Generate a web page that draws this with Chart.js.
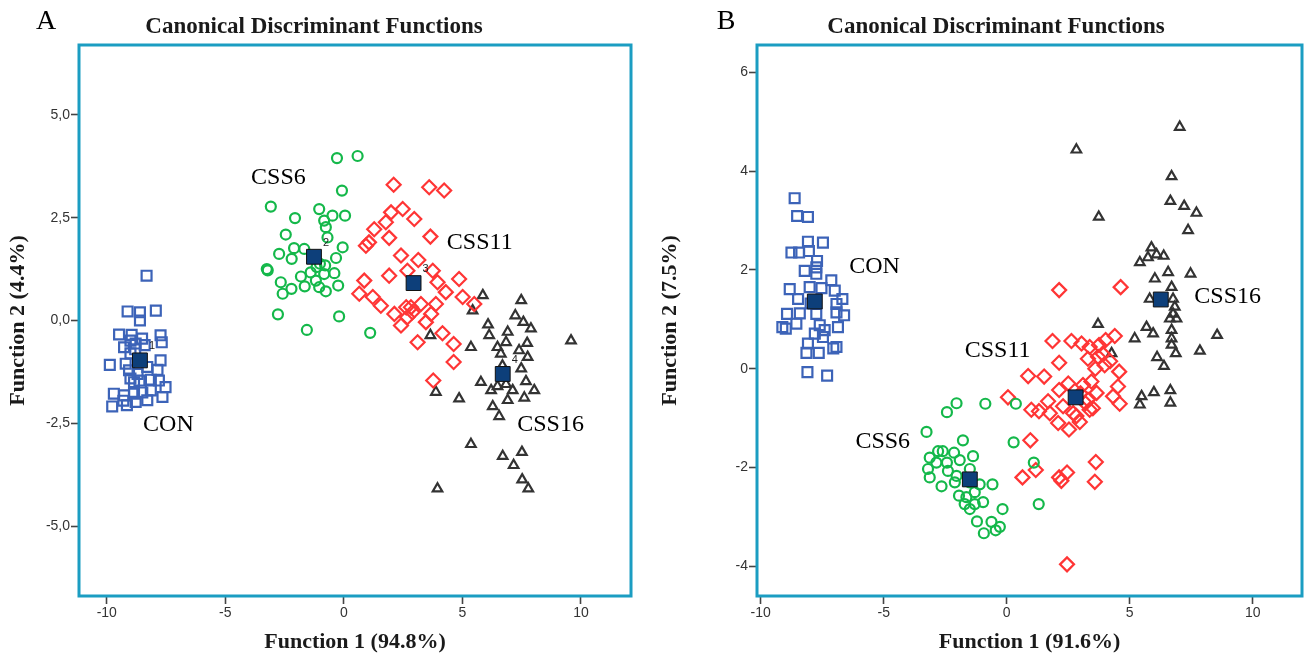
<!DOCTYPE html>
<html>
<head>
<meta charset="utf-8">
<script src="https://cdn.jsdelivr.net/npm/chart.js@4.4.1/dist/chart.umd.min.js"></script>
<style>
html, body { margin: 0; padding: 0; background: #fff; }
#wrap { position: relative; width: 1304px; height: 657px; }
.panel { position: absolute; top: 0; width: 652px; height: 657px; }
</style>
</head>
<body>
<div id="wrap">
  <div class="panel" style="left:0"><canvas id="chartA"></canvas></div>
  <div class="panel" style="left:652px"><canvas id="chartB"></canvas></div>
</div>
<script>
// ---- data ----
var groups = ['CON', 'CSS6', 'CSS11', 'CSS16'];
var xTicks = [-10, -5, 0, 5, 10];
var yTicksA = [-5, -2.5, 0, 2.5, 5];
var yTickLabelsA = ['-5,0', '-2,5', '0,0', '2,5', '5,0'];
var yTicksB = [-4, -2, 0, 2, 4, 6];

// panel A
var conA = [[-8.32,1.09],[-9.12,0.22],[-8.6,0.2],[-7.93,0.24],[-8.6,0.0],[-9.48,-0.34],[-9.0,-0.49],[-8.78,-0.56],[-8.51,-0.44],[-7.73,-0.36],[-7.68,-0.53],[-9.87,-1.08],[-9.2,-1.05],[-7.86,-1.2],[-9.0,-1.41],[-8.62,-1.46],[-8.14,-1.44],[-7.8,-1.46],[-7.52,-1.62],[-9.7,-1.78],[-9.27,-1.82],[-8.85,-1.78],[-8.14,-1.7],[-7.65,-1.86],[-9.77,-2.09],[-9.15,-2.06],[-8.78,-1.98],[-8.29,-1.94],[-8.85,-1.5],[-9.06,-1.21],[-8.29,-1.13],[-9.27,-0.65],[-7.73,-0.97],[-8.8,-0.7],[-8.4,-0.6],[-9.0,-0.8],[-8.7,-1.3],[-8.5,-1.75],[-9.3,-1.95],[-8.95,-0.35]];
var css6A = [[-0.29,3.95],[0.58,4.0],[-0.08,3.16],[-3.08,2.77],[-2.06,2.49],[-1.04,2.71],[-0.48,2.55],[0.05,2.55],[-0.83,2.43],[-0.76,2.27],[-2.45,2.09],[-0.69,2.02],[-0.05,1.78],[-2.73,1.62],[-2.1,1.76],[-1.67,1.74],[-2.2,1.5],[-0.33,1.52],[-3.25,1.25],[-3.21,1.22],[-1.81,1.07],[-1.4,1.17],[-0.83,1.13],[-0.4,1.15],[-2.66,0.93],[-2.58,0.65],[-2.21,0.77],[-1.65,0.83],[-1.04,0.81],[-0.76,0.71],[-0.24,0.85],[-1.18,0.97],[-2.78,0.15],[-1.56,-0.23],[-0.2,0.1],[1.11,-0.3],[-1.01,1.38],[-0.79,1.34],[-1.15,1.3]];
var css11A = [[2.1,3.3],[3.6,3.24],[4.23,3.16],[2.48,2.71],[1.99,2.63],[2.97,2.47],[1.77,2.39],[1.28,2.22],[3.65,2.04],[1.91,2.01],[1.06,1.9],[0.93,1.82],[2.41,1.58],[3.14,1.47],[1.91,1.09],[0.86,0.97],[2.68,1.21],[3.75,1.21],[3.95,0.93],[4.86,1.01],[4.3,0.69],[0.65,0.65],[1.22,0.57],[1.56,0.36],[2.83,0.32],[3.25,0.4],[3.88,0.4],[5.01,0.57],[5.5,0.4],[2.13,0.16],[2.68,0.08],[3.68,0.16],[2.41,-0.12],[3.46,-0.04],[4.16,-0.31],[3.11,-0.53],[4.63,-0.57],[4.63,-1.01],[3.77,-1.46],[2.89,0.2],[2.63,0.32]];
var css16A = [[5.86,0.61],[7.48,0.49],[5.43,0.24],[7.23,0.12],[7.57,-0.04],[6.08,-0.1],[7.89,-0.2],[6.13,-0.36],[6.91,-0.28],[3.65,-0.36],[6.84,-0.53],[5.36,-0.65],[6.48,-0.65],[7.73,-0.55],[7.39,-0.73],[6.62,-0.81],[7.75,-0.89],[9.58,-0.49],[7.48,-1.17],[5.78,-1.5],[7.68,-1.48],[6.21,-1.7],[7.12,-1.7],[8.03,-1.7],[3.88,-1.74],[4.86,-1.9],[7.61,-1.88],[6.91,-1.94],[6.28,-2.09],[6.55,-2.33],[5.36,-3.01],[7.51,-3.2],[6.7,-3.3],[7.16,-3.52],[7.52,-3.87],[7.78,-4.09],[3.95,-4.09],[6.69,-1.1],[6.48,-1.6],[6.84,-1.55]];
var centroidsA = [[-8.6,-0.97],[-1.26,1.55],[2.94,0.91],[6.7,-1.3]];
var centroidNumsA = ['1', '2', '3', '4'];
var labelPosA = [[-7.4,-2.53],[-2.76,3.48],[5.73,1.9],[8.72,-2.53]];

// panel B
var conB = [[-8.62,3.45],[-8.52,3.09],[-8.08,3.07],[-8.08,2.57],[-7.47,2.55],[-8.75,2.35],[-8.44,2.35],[-8.04,2.38],[-7.71,2.18],[-7.74,2.05],[-8.21,1.98],[-7.74,1.92],[-7.13,1.79],[-8.82,1.61],[-8.01,1.65],[-7.53,1.63],[-6.99,1.58],[-8.48,1.41],[-6.68,1.41],[-6.92,1.31],[-8.93,1.11],[-8.41,1.12],[-7.74,1.11],[-6.92,1.14],[-6.61,1.08],[-8.55,0.91],[-8.98,0.81],[-9.12,0.84],[-7.6,0.88],[-7.4,0.78],[-6.86,0.84],[-7.8,0.71],[-8.08,0.51],[-7.47,0.64],[-6.92,0.44],[-8.14,0.32],[-7.64,0.32],[-7.05,0.41],[-8.1,-0.07],[-7.3,-0.14],[-7.97,1.32]];
var css6B = [[-2.04,-0.7],[-2.43,-0.88],[-0.87,-0.71],[0.37,-0.71],[-3.26,-1.28],[-1.78,-1.45],[0.28,-1.49],[-2.79,-1.67],[-2.6,-1.67],[-2.14,-1.7],[-1.37,-1.77],[-3.13,-1.8],[-2.86,-1.9],[-2.43,-1.9],[-1.91,-1.85],[1.1,-1.9],[-3.2,-2.03],[-2.39,-2.07],[-2.04,-2.17],[-3.13,-2.2],[-2.65,-2.38],[-2.11,-2.3],[-0.58,-2.34],[-1.1,-2.34],[-1.94,-2.57],[-1.64,-2.6],[-1.3,-2.5],[-0.96,-2.7],[-1.71,-2.74],[-1.5,-2.84],[-1.3,-2.74],[-0.17,-2.84],[1.3,-2.74],[-1.21,-3.09],[-0.62,-3.1],[-0.28,-3.2],[-0.45,-3.27],[-0.93,-3.33],[-1.5,-2.03],[-1.5,-2.3]];
var css11B = [[2.13,1.59],[4.63,1.65],[1.86,0.56],[2.63,0.56],[3.04,0.51],[3.37,0.44],[3.75,0.48],[4.02,0.58],[4.39,0.66],[2.13,0.12],[0.87,-0.15],[1.52,-0.16],[3.71,0.24],[3.98,0.07],[4.57,-0.06],[3.44,-0.26],[3.1,-0.33],[4.52,-0.36],[2.13,-0.43],[0.05,-0.58],[4.32,-0.56],[1.68,-0.66],[2.29,-0.76],[3.3,-0.63],[3.65,-0.49],[4.59,-0.71],[1.0,-0.83],[1.31,-0.86],[1.75,-0.9],[3.37,-0.83],[2.83,-0.96],[2.09,-1.1],[2.97,-1.08],[2.53,-1.23],[0.96,-1.45],[3.62,-1.89],[0.64,-2.2],[1.18,-2.05],[2.13,-2.2],[2.45,-2.1],[2.22,-2.27],[3.58,-2.29],[2.45,-3.96],[2.5,-0.3],[3.2,-0.7],[3.5,-0.8],[2.7,-0.9],[3.0,-0.5],[3.6,0.0],[3.9,0.3],[4.2,0.15],[3.3,0.2]];
var css16B = [[7.03,4.89],[2.83,4.43],[6.7,3.89],[6.65,3.39],[7.21,3.29],[7.71,3.15],[3.74,3.07],[7.37,2.8],[5.88,2.45],[5.41,2.15],[5.74,2.25],[6.09,2.31],[6.38,2.28],[6.02,1.82],[6.56,1.95],[7.47,1.92],[6.7,1.65],[5.81,1.41],[6.76,1.41],[6.83,1.25],[6.76,1.11],[6.63,1.01],[6.9,1.01],[3.71,0.9],[5.68,0.84],[5.95,0.71],[6.7,0.78],[8.55,0.68],[5.2,0.61],[6.7,0.61],[6.7,0.48],[7.85,0.36],[4.26,0.31],[6.87,0.31],[6.11,0.23],[6.39,0.05],[5.98,-0.48],[6.65,-0.44],[5.48,-0.56],[5.41,-0.73],[6.65,-0.69]];
var centroidsB = [[-7.8,1.36],[-1.5,-2.24],[2.8,-0.58],[6.26,1.4]];
var labelPosB = [[-5.37,2.07],[-5.04,-1.47],[-0.37,0.37],[8.98,1.46]];

// ---- drawing ----
var border = '#1b9dc2';
var serif = "'Liberation Serif', 'Times New Roman', serif";
var sans = "'Liberation Sans', Arial, sans-serif";

function pts(list) {
  return list.map(function (p) { return { x: p[0], y: p[1] }; });
}

var decor = {
  id: 'decor',
  afterDatasetsDraw: function (chart, args, o) {
    var ctx = chart.ctx, a = chart.chartArea;
    var xs = chart.scales.x, ys = chart.scales.y;
    ctx.save();
    ctx.strokeStyle = border;
    ctx.lineWidth = 3;
    ctx.strokeRect(a.left, a.top, a.right - a.left, a.bottom - a.top);

    ctx.fillStyle = '#000';
    ctx.font = '24px ' + serif;
    ctx.textAlign = 'center';
    ctx.textBaseline = 'middle';
    for (var i = 0; i < groups.length; i++) {
      ctx.fillText(groups[i], xs.getPixelForValue(o.labels[i][0]), ys.getPixelForValue(o.labels[i][1]));
    }
    if (o.nums) {
      ctx.font = '11px ' + sans;
      ctx.fillStyle = '#222';
      for (var j = 0; j < o.nums.length; j++) {
        ctx.fillText(o.nums[j], xs.getPixelForValue(o.centroids[j][0]) + 12, ys.getPixelForValue(o.centroids[j][1]) - 14);
      }
    }
    ctx.restore();
  },
  afterDraw: function (chart, args, o) {
    var ctx = chart.ctx;
    ctx.save();
    ctx.fillStyle = '#000';
    ctx.textBaseline = 'middle';
    ctx.textAlign = 'center';
    ctx.font = '28px ' + serif;
    ctx.fillText(o.letter, o.letterX, 22);
    ctx.font = 'bold 23px ' + serif;
    ctx.fillStyle = '#1a1a1a';
    ctx.fillText('Canonical Discriminant Functions', o.titleX, 27);
    ctx.restore();
  }
};

function makeChart(id, p) {
  var axisTitleFont = { family: serif, size: 22, weight: 'bold' };
  var grid = { display: true, drawOnChartArea: false, drawTicks: true, tickLength: 8, tickColor: '#444', tickWidth: 1.6 };
  return new Chart(document.getElementById(id), {
    type: 'scatter',
    data: {
      datasets: [
        { label: 'Group centroid', data: pts(p.centroids), pointStyle: 'rect', pointRadius: 10.5, backgroundColor: '#0d3f7a', borderColor: '#111', borderWidth: 1 },
        { label: 'CON', data: pts(p.con), pointStyle: 'rect', pointRadius: 7, backgroundColor: 'rgba(0,0,0,0)', borderColor: '#3c63b8', borderWidth: 2.2 },
        { label: 'CSS6', data: pts(p.css6), pointStyle: 'circle', pointRadius: 5, backgroundColor: 'rgba(0,0,0,0)', borderColor: '#14b84a', borderWidth: 2.2 },
        { label: 'CSS11', data: pts(p.css11), pointStyle: 'rectRot', pointRadius: 7, backgroundColor: 'rgba(0,0,0,0)', borderColor: '#ff3535', borderWidth: 2.2 },
        { label: 'CSS16', data: pts(p.css16), pointStyle: 'triangle', pointRadius: 5.5, backgroundColor: 'rgba(0,0,0,0)', borderColor: '#333', borderWidth: 2.2 }
      ]
    },
    options: {
      responsive: true,
      maintainAspectRatio: false,
      animation: false,
      events: [],
      layout: { autoPadding: false, padding: { top: 45, right: p.padRight, left: 0, bottom: 0 } },
      plugins: {
        legend: { display: false },
        tooltip: { enabled: false },
        decor: { labels: p.labels, centroids: p.centroids, nums: p.nums, letter: p.letter, letterX: p.letterX, titleX: p.titleX }
      },
      scales: {
        x: {
          type: 'linear', min: p.xMin, max: p.xMax,
          afterBuildTicks: function (s) { s.ticks = xTicks.map(function (v) { return { value: v }; }); },
          afterFit: function (s) { s.height = 61; s.paddingLeft = 0; s.paddingRight = 0; },
          grid: grid,
          border: { display: false },
          ticks: { autoSkip: false, maxRotation: 0, padding: 1, color: '#333', font: { family: sans, size: 14 } },
          title: { display: true, text: p.xTitle, color: '#1a1a1a', font: axisTitleFont, padding: { top: 4, bottom: 1 } }
        },
        y: {
          type: 'linear', min: p.yMin, max: p.yMax,
          afterBuildTicks: function (s) { s.ticks = p.yTicks.map(function (v) { return { value: v }; }); },
          afterFit: function (s) { s.width = p.yAxisWidth; s.paddingTop = 0; s.paddingBottom = 0; },
          grid: grid,
          border: { display: false },
          ticks: {
            autoSkip: false, padding: 1, color: '#333', font: { family: sans, size: 14 },
            callback: function (v) {
              var k = p.yTicks.indexOf(v);
              return p.yLabels ? p.yLabels[k] : String(v);
            }
          },
          title: { display: true, text: p.yTitle, color: '#1a1a1a', font: axisTitleFont, padding: { top: 5, bottom: 0 } }
        }
      }
    },
    plugins: [decor]
  });
}

makeChart('chartA', {
  con: conA, css6: css6A, css11: css11A, css16: css16A, centroids: centroidsA,
  labels: labelPosA, nums: centroidNumsA,
  xMin: -11.17, xMax: 12.11, yMin: -6.7, yMax: 6.7,
  yTicks: yTicksA, yLabels: yTickLabelsA, yAxisWidth: 79, padRight: 21,
  xTitle: 'Function 1 (94.8%)', yTitle: 'Function 2 (4.4%)',
  letter: 'A', letterX: 46, titleX: 314
});

makeChart('chartB', {
  con: conB, css6: css6B, css11: css11B, css16: css16B, centroids: centroidsB,
  labels: labelPosB, nums: null,
  xMin: -10.15, xMax: 12.0, yMin: -4.6, yMax: 6.55,
  yTicks: yTicksB, yLabels: null, yAxisWidth: 105, padRight: 2,
  xTitle: 'Function 1 (91.6%)', yTitle: 'Function 2 (7.5%)',
  letter: 'B', letterX: 74, titleX: 344
});
</script>
</body>
</html>
